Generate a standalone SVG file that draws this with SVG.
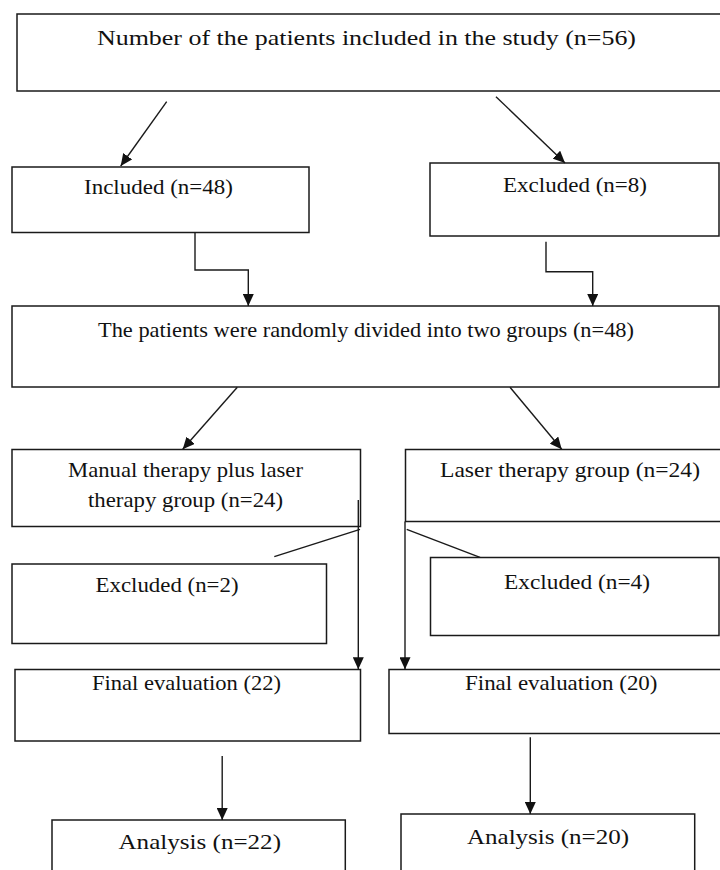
<svg xmlns="http://www.w3.org/2000/svg" width="720" height="870" viewBox="0 0 720 870">
<style>
.box{fill:#fff;stroke:#1a1a1a;stroke-width:1.5}
.t{font-family:"Liberation Serif","Times New Roman",serif;font-size:22px;fill:#111}
.c{fill:none;stroke:#1a1a1a;stroke-width:1.4}
</style>
<defs>
<marker id="ah" markerUnits="userSpaceOnUse" markerWidth="12" markerHeight="11" refX="12" refY="5.5" orient="auto">
<path d="M0,0 L12,5.5 L0,11 z" fill="#111"/>
</marker>
</defs>
<rect width="720" height="870" fill="#fff"/>
<g id="n_total"><rect class="box" x="17" y="14" width="706" height="77"/><text class="t" x="97" y="45" textLength="539" lengthAdjust="spacingAndGlyphs">Number of the patients included in the study (n=56)</text></g>
<g id="n_included"><rect class="box" x="12" y="167" width="297" height="65.5"/><text class="t" x="84" y="194" textLength="149" lengthAdjust="spacingAndGlyphs">Included (n=48)</text></g>
<g id="n_excluded8"><rect class="box" x="430" y="163" width="289" height="73"/><text class="t" x="503" y="192" textLength="144" lengthAdjust="spacingAndGlyphs">Excluded (n=8)</text></g>
<g id="n_random"><rect class="box" x="12" y="306" width="707" height="81"/><text class="t" x="98" y="337" textLength="536" lengthAdjust="spacingAndGlyphs">The patients were randomly divided into two groups (n=48)</text></g>
<g id="n_manual"><rect class="box" x="12" y="449.5" width="348.5" height="77"/><text class="t" x="68" y="477" textLength="235" lengthAdjust="spacingAndGlyphs">Manual therapy plus laser</text><text class="t" x="88" y="507" textLength="195" lengthAdjust="spacingAndGlyphs">therapy group (n=24)</text></g>
<g id="n_laser"><rect class="box" x="405.5" y="449.5" width="318" height="72"/><text class="t" x="440" y="477" textLength="260" lengthAdjust="spacingAndGlyphs">Laser therapy group (n=24)</text></g>
<g id="n_excluded2"><rect class="box" x="12" y="564" width="314.5" height="79.5"/><text class="t" x="95.5" y="592" textLength="143" lengthAdjust="spacingAndGlyphs">Excluded (n=2)</text></g>
<g id="n_excluded4"><rect class="box" x="430.5" y="557.5" width="288.5" height="78"/><text class="t" x="504" y="589" textLength="146" lengthAdjust="spacingAndGlyphs">Excluded (n=4)</text></g>
<g id="n_final22"><rect class="box" x="15" y="669.5" width="345.5" height="71.5"/><text class="t" x="92" y="690" textLength="189" lengthAdjust="spacingAndGlyphs">Final evaluation (22)</text></g>
<g id="n_final20"><rect class="box" x="389" y="669.5" width="334" height="64"/><text class="t" x="465" y="690" textLength="192.5" lengthAdjust="spacingAndGlyphs">Final evaluation (20)</text></g>
<g id="n_analysis22"><rect class="box" x="52" y="820" width="293.3" height="60"/><text class="t" x="118.5" y="849" textLength="162.5" lengthAdjust="spacingAndGlyphs">Analysis (n=22)</text></g>
<g id="n_analysis20"><rect class="box" x="401" y="814" width="293.7" height="66"/><text class="t" x="467" y="844" textLength="162" lengthAdjust="spacingAndGlyphs">Analysis (n=20)</text></g>
<g id="connectors">
<line class="c" x1="166.7" y1="101.7" x2="120.7" y2="166" marker-end="url(#ah)"/>
<line class="c" x1="496" y1="96.7" x2="565" y2="163" marker-end="url(#ah)"/>
<polyline class="c" points="195,232.5 195,270 248.3,270 248.3,306" marker-end="url(#ah)"/>
<polyline class="c" points="546,241.7 546,271.7 592.7,271.7 592.7,306" marker-end="url(#ah)"/>
<line class="c" x1="237.3" y1="387.3" x2="182.7" y2="449.3" marker-end="url(#ah)"/>
<line class="c" x1="510" y1="387.3" x2="561.7" y2="449.3" marker-end="url(#ah)"/>
<line class="c" x1="360" y1="529.3" x2="274.3" y2="556.7"/>
<line class="c" x1="358.3" y1="500" x2="358.3" y2="669.3" marker-end="url(#ah)"/>
<line class="c" x1="406.7" y1="529.3" x2="480" y2="557.3"/>
<line class="c" x1="405" y1="521.5" x2="405" y2="669.3" marker-end="url(#ah)"/>
<line class="c" x1="222.2" y1="756" x2="222.2" y2="820" marker-end="url(#ah)"/>
<line class="c" x1="530.3" y1="737.3" x2="530.3" y2="814" marker-end="url(#ah)"/>
</g>
</svg>
